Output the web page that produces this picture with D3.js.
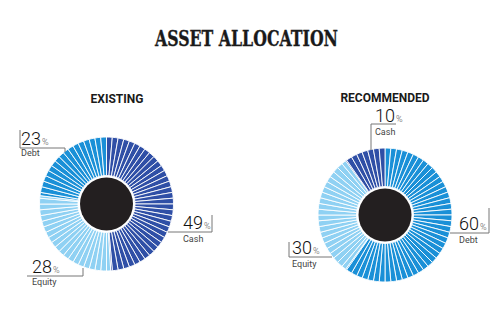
<!DOCTYPE html>
<html>
<head>
<meta charset="utf-8">
<script src="https://cdn.jsdelivr.net/npm/d3@7"></script>
<style>
  html, body { margin: 0; padding: 0; background: #fff; }
  svg { display: block; }
</style>
</head>
<body>
<svg id="chart" width="500" height="322"></svg>
<script>
// ---- data ----
const chartTitle = "ASSET ALLOCATION";
const pieTitles = ["EXISTING", "RECOMMENDED"];
const existingCategories = ["Cash", "Equity", "Debt"];
const existingValues = [49, 28, 23];
const recommendedCategories = ["Debt", "Equity", "Cash"];
const recommendedValues = [60, 30, 10];
const categoryColors = { Cash: "#2f4fa6", Equity: "#8fd1f3", Debt: "#1a90d7" };

const svg = d3.select("#chart");

// title
svg.append("text")
  .attr("x", 246.5).attr("y", 46)
  .attr("text-anchor", "middle")
  .attr("font-family", "DejaVu Serif")
  .attr("font-weight", "bold")
  .attr("font-size", 23)
  .attr("textLength", 183)
  .attr("lengthAdjust", "spacingAndGlyphs")
  .attr("fill", "#1a1a1a")
  .attr("stroke", "#1a1a1a")
  .attr("stroke-width", 0.4)
  .text(chartTitle);

const pies = [
  {
    title: pieTitles[0], titleX: 117, titleY: 103,
    cx: 106.5, cy: 204,
    data: existingCategories.map((c, i) => ({ cat: c, value: existingValues[i] })),
    labels: {
      Debt:   { x: 21,  y: 145, sub: 156, path: "M20,130V148H65V152" },
      Cash:   { x: 183, y: 229, sub: 242, path: "M168,232H212V215" },
      Equity: { x: 32,  y: 273, sub: 285, path: "M27,276H83V268" }
    }
  },
  {
    title: pieTitles[1], titleX: 385, titleY: 102,
    cx: 385, cy: 215,
    data: recommendedCategories.map((c, i) => ({ cat: c, value: recommendedValues[i] })),
    labels: {
      Cash:   { x: 375, y: 122, sub: 135, path: "M396,124H371V150" },
      Debt:   { x: 459, y: 230, sub: 243, path: "M450,233H489V208" },
      Equity: { x: 292, y: 254, sub: 266.5, path: "M289,242V257H332" }
    }
  }
];

const outerR = 67, innerR = 28.5, holeR = 26.5;
const step = 2 * Math.PI / 72;
const arc = d3.arc().innerRadius(innerR).outerRadius(outerR);
const pie = d3.pie().sort(null).value(d => d.value);

pies.forEach(p => {
  svg.append("text")
    .attr("x", p.titleX).attr("y", p.titleY)
    .attr("text-anchor", "middle")
    .attr("font-family", "Roboto")
    .attr("font-weight", "bold")
    .attr("font-size", 12)
    .attr("fill", "#1a1a1a")
    .text(p.title);

  const g = svg.append("g").attr("transform", `translate(${p.cx},${p.cy})`);
  const arcs = pie(p.data);
  arcs.forEach(a => {
    // subdivide slice into thin wedges
    const subs = [];
    let s = a.startAngle;
    let k = Math.floor(s / step + 1e-9) + 1;
    while (s < a.endAngle - 1e-9) {
      const e = Math.min(k * step, a.endAngle);
      subs.push({ startAngle: s, endAngle: e });
      s = e; k++;
    }
    g.selectAll(null).data(subs).enter().append("path")
      .attr("d", arc)
      .attr("fill", categoryColors[a.data.cat])
      .attr("stroke", "#ffffff")
      .attr("stroke-width", 0.9)
      .attr("stroke-linejoin", "miter");
  });
  g.append("circle").attr("r", holeR).attr("fill", "#231f20");

  // labels
  arcs.forEach(a => {
    const L = p.labels[a.data.cat];
    svg.append("path").attr("d", L.path)
      .attr("fill", "none").attr("stroke", "#777").attr("stroke-width", 1);
    const t = svg.append("text")
      .attr("x", L.x).attr("y", L.y)
      .attr("font-family", "Roboto")
      .attr("font-weight", 300)
      .attr("fill", "#111");
    t.append("tspan").attr("font-size", 18).text(a.data.value);
    t.append("tspan").attr("font-size", 9).attr("dx", 1).attr("fill", "#555").text("%");
    svg.append("text")
      .attr("x", L.x).attr("y", L.sub)
      .attr("font-family", "Roboto")
      .attr("font-size", 9)
      .attr("fill", "#444")
      .text(a.data.cat);
  });
});
</script>
</body>
</html>
